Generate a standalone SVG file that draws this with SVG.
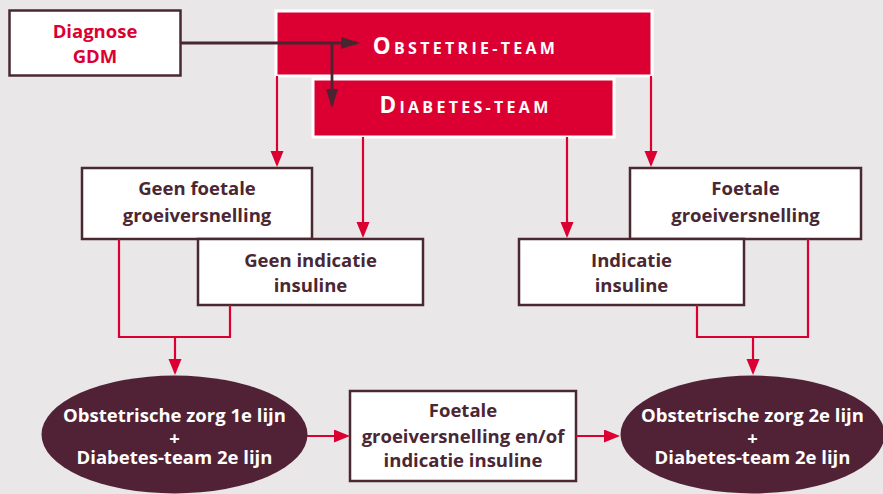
<svg xmlns="http://www.w3.org/2000/svg" width="883" height="494" viewBox="0 0 883 494">
<defs>
<style>
.bg{fill:#EAE7E8}
.box{fill:#FFFFFF;stroke:#4A2830;stroke-width:2.5}
.team{fill:#DC0032;stroke:#FFFFFF;stroke-width:3}
.ell{fill:#512236}
.t{font-family:"Open Sans","Liberation Sans",sans-serif;font-weight:700;font-size:18.5px;text-anchor:middle;fill:#4A2733}
.w{fill:#FFFFFF}
.r{fill:#DC0032}
.sc{font-family:"Open Sans","Liberation Sans",sans-serif;font-weight:700;fill:#FFFFFF;letter-spacing:3.3px}
.rl{fill:none;stroke:#DC0032;stroke-width:2.2}
.dl{fill:none;stroke:#4A2430;stroke-width:2.8}
</style>
<marker id="ra" markerUnits="userSpaceOnUse" markerWidth="16" markerHeight="14" refX="13" refY="6.5" orient="auto">
<path d="M0,0 L16,6.5 L0,13 Z" fill="#DC0032"/>
</marker>
<marker id="da" markerUnits="userSpaceOnUse" markerWidth="19" markerHeight="13" refX="16" refY="6" orient="auto">
<path d="M0,0 L19,6 L0,12 Z" fill="#4A2430"/>
</marker>
</defs>
<rect class="bg" x="0" y="0" width="883" height="494"/>

<g id="diagnose">
<rect class="box" x="9.5" y="10.5" width="171" height="65"/>
<text class="t r" x="95" y="38">Diagnose</text>
<text class="t r" x="95" y="63">GDM</text>
</g>

<g id="obstetrie-team">
<rect class="team" x="276" y="11" width="376" height="65"/>
<text class="sc" x="465.5" y="54" text-anchor="middle"><tspan font-size="22.5">O</tspan><tspan font-size="16">BSTETRIE-TEAM</tspan></text>
</g>

<g id="diabetes-team">
<rect class="team" x="313" y="79" width="301" height="58"/>
<text class="sc" x="465.5" y="113" text-anchor="middle"><tspan font-size="22.5">D</tspan><tspan font-size="16">IABETES-TEAM</tspan></text>
</g>

<g id="geen-foetale">
<rect class="box" x="82" y="168" width="230" height="71"/>
<text class="t" x="197" y="195">Geen foetale</text>
<text class="t" x="197" y="222">groeiversnelling</text>
</g>

<g id="geen-indicatie">
<rect class="box" x="198" y="239" width="225" height="66"/>
<text class="t" x="310.5" y="266.5">Geen indicatie</text>
<text class="t" x="310.5" y="292">insuline</text>
</g>

<g id="foetale">
<rect class="box" x="630" y="168" width="231" height="71"/>
<text class="t" x="745.5" y="195">Foetale</text>
<text class="t" x="745.5" y="222">groeiversnelling</text>
</g>

<g id="indicatie">
<rect class="box" x="519" y="239" width="225" height="66"/>
<text class="t" x="631.5" y="266.5">Indicatie</text>
<text class="t" x="631.5" y="292">insuline</text>
</g>

<g id="zorg-1e">
<ellipse class="ell" cx="174.5" cy="434.5" rx="133" ry="59"/>
<text class="t w" x="174.5" y="421.5">Obstetrische zorg 1e lijn</text>
<text class="t w" x="174.5" y="444.5">+</text>
<text class="t w" x="174.5" y="463.5">Diabetes-team 2e lijn</text>
</g>

<g id="middle">
<rect class="box" x="350" y="391" width="226" height="90"/>
<text class="t" x="463" y="417">Foetale</text>
<text class="t" x="463" y="443">groeiversnelling en/of</text>
<text class="t" x="463" y="467">indicatie insuline</text>
</g>

<g id="zorg-2e">
<ellipse class="ell" cx="752.5" cy="434.5" rx="132" ry="59"/>
<text class="t w" x="752.5" y="421.5">Obstetrische zorg 2e lijn</text>
<text class="t w" x="752.5" y="444.5">+</text>
<text class="t w" x="752.5" y="463.5">Diabetes-team 2e lijn</text>
</g>

<g id="connectors">
<path class="dl" d="M181,43 H357" marker-end="url(#da)"/>
<path class="dl" d="M332,43 V105" marker-end="url(#da)"/>
<path class="rl" d="M277,76 V164" marker-end="url(#ra)"/>
<path class="rl" d="M363,137 V235" marker-end="url(#ra)"/>
<path class="rl" d="M567,137 V235" marker-end="url(#ra)"/>
<path class="rl" d="M651,76 V164" marker-end="url(#ra)"/>
<path class="rl" d="M119,239 V337 H230 V305"/>
<path class="rl" d="M175,337 V372" marker-end="url(#ra)"/>
<path class="rl" d="M697,305 V337 H808 V239"/>
<path class="rl" d="M753,337 V372" marker-end="url(#ra)"/>
<path class="rl" d="M307,436 H347" marker-end="url(#ra)"/>
<path class="rl" d="M576,436 H617" marker-end="url(#ra)"/>
</g>
</svg>
